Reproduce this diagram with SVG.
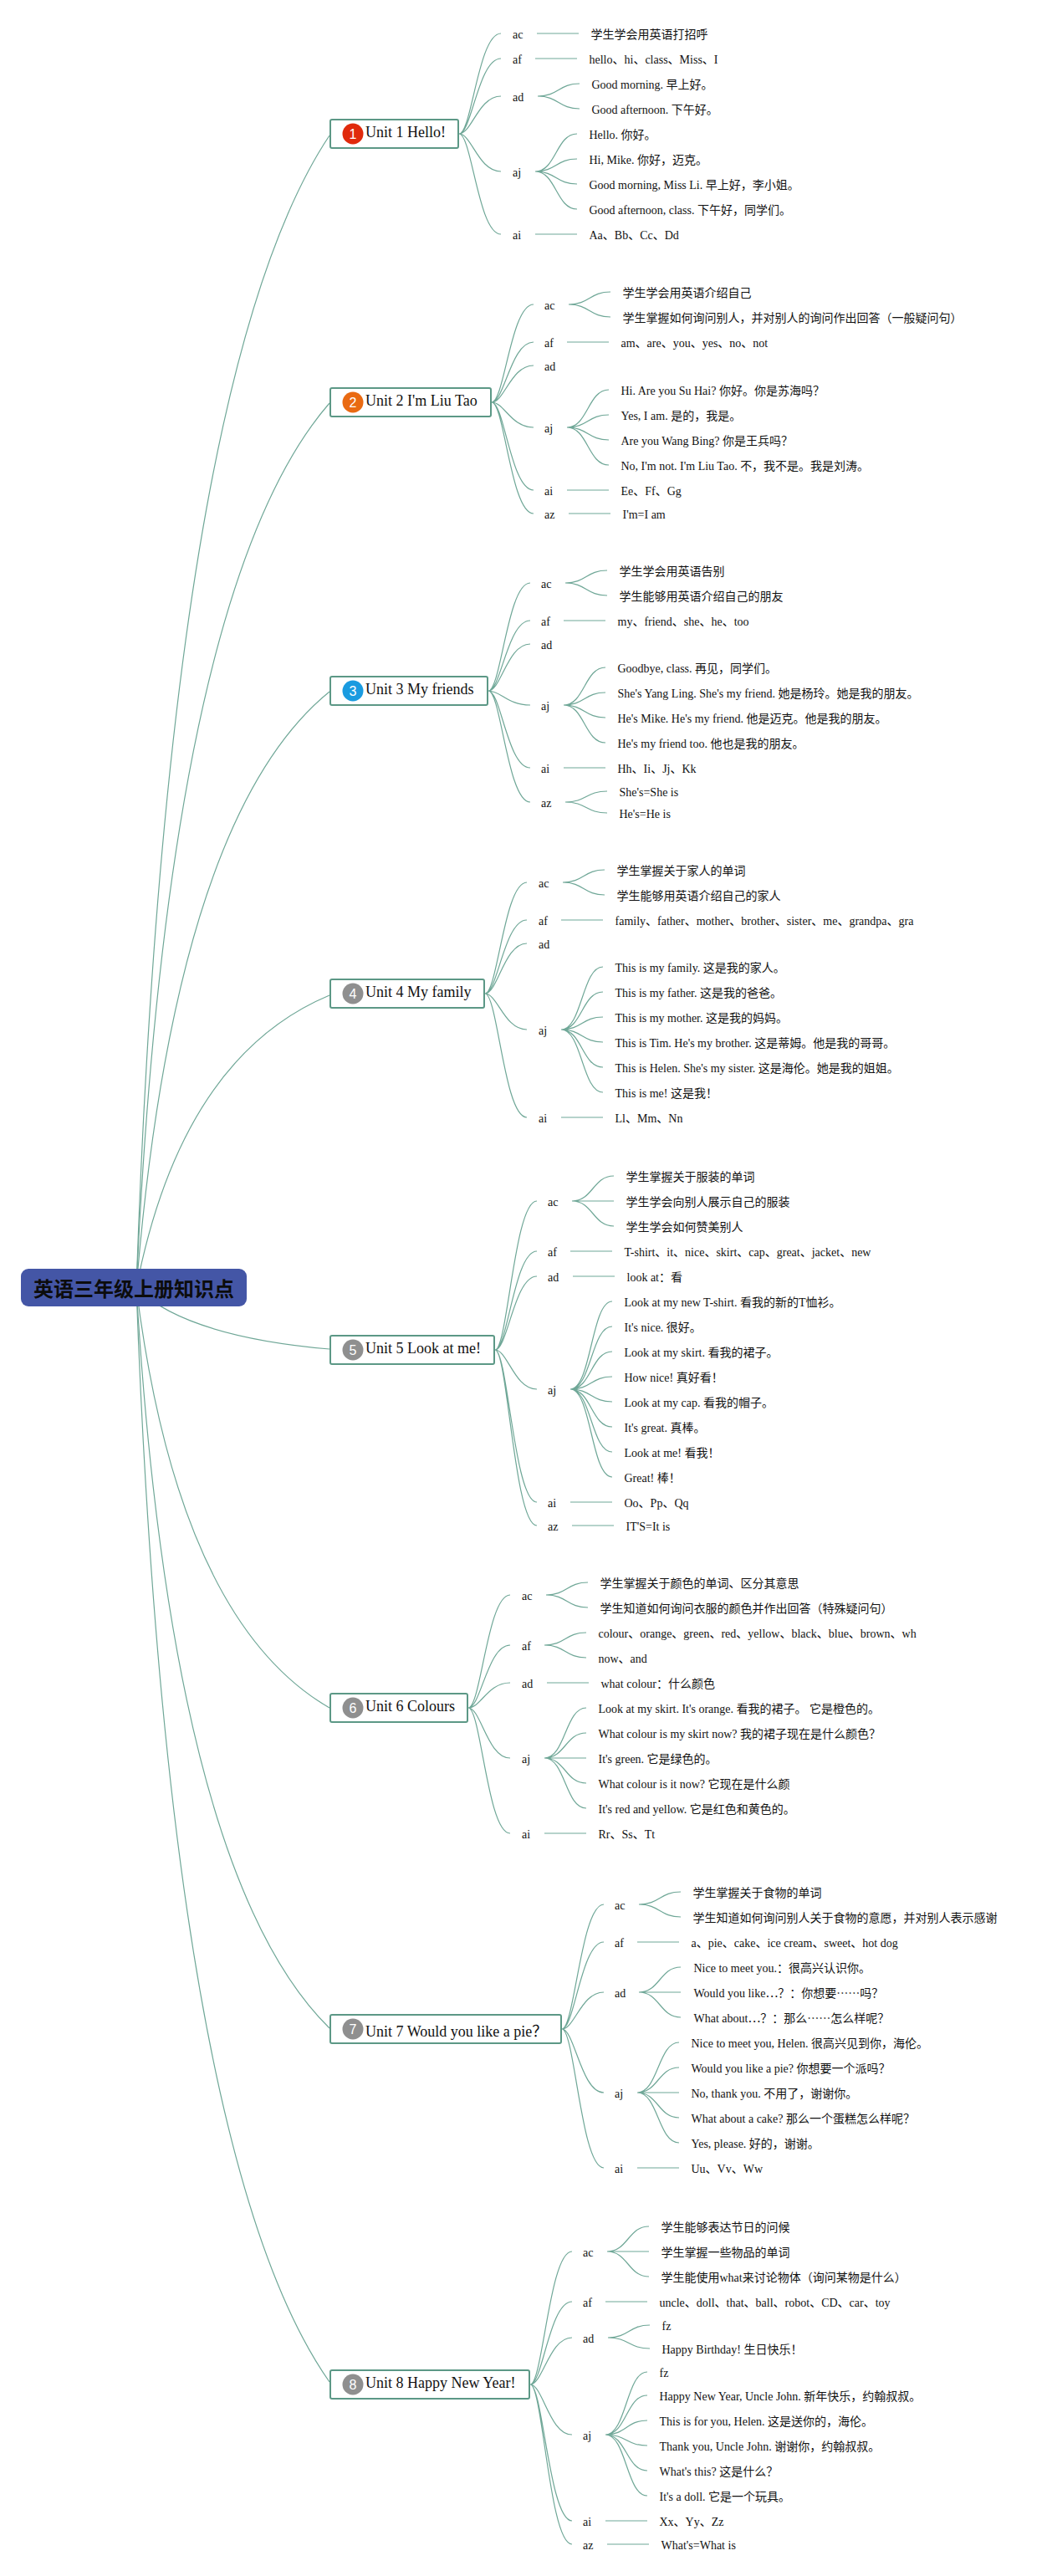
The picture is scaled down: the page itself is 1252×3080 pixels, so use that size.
<svg xmlns="http://www.w3.org/2000/svg" width="1252" height="3080" viewBox="0 0 1252 3080">
<style>
text{font-family:"Liberation Serif","Noto Sans CJK SC",serif;font-size:14px;fill:#111}
.cjk{font-family:"Noto Sans CJK SC",sans-serif}
.root{font-family:"Noto Sans CJK SC",sans-serif;font-size:24px;font-weight:700;text-anchor:middle;fill:#0c0c0c}
.t{font-size:18px}
.n{font-family:"Liberation Sans",sans-serif;font-size:16px;fill:#fff;text-anchor:middle}
.box{fill:#fff;stroke:#5c9886;stroke-width:2}
#connectors path{fill:none;stroke:#6fa797;stroke-width:1.2}
</style>
<rect width="1252" height="3080" fill="#fff"/>
<g id="connectors">
<path d="M163 1540Q200 453 394 162"/>
<path d="M163 1540Q201 704 394 482"/>
<path d="M163 1540Q209 977 394 827"/>
<path d="M163 1540Q217 1264 394 1190"/>
<path d="M163 1540Q223 1598 394 1613"/>
<path d="M163 1540Q213 1937 394 2042"/>
<path d="M163 1540Q205 2239 394 2425"/>
<path d="M163 1540Q201 2573 394 2848"/>

<path d="M549 160C564 160 572 40 599 40M549 160C564 160 572 70 599 70M549 160C564 160 572 115 599 115M549 160C564 160 572 205 599 205M549 160C564 160 572 280 599 280"/>
<path d="M642 40H692M640 70H690M640 280H690"/>
<path d="M643 115C668 115 668 100 693 100M643 115C668 115 668 130 693 130"/>
<path d="M640 205C665 205 665 160 690 160M640 205C665 205 665 190 690 190M640 205C665 205 665 220 690 220M640 205C665 205 665 250 690 250"/>

<path d="M588 481C603 481 611 364 638 364M588 481C603 481 611 409 638 409M588 481C603 481 611 437 638 437M588 481C603 481 611 511 638 511M588 481C603 481 611 586 638 586M588 481C603 481 611 614 638 614"/>
<path d="M680 364C705 364 705 349 730 349M680 364C705 364 705 379 730 379"/>
<path d="M678 409H728M678 586H728M680 614H730"/>
<path d="M678 511C703 511 703 466 728 466M678 511C703 511 703 496 728 496M678 511C703 511 703 526 728 526M678 511C703 511 703 556 728 556"/>

<path d="M584 826C599 826 607 697 634 697M584 826C599 826 607 742 634 742M584 826C599 826 607 770 634 770M584 826C599 826 607 843 634 843M584 826C599 826 607 918 634 918M584 826C599 826 607 959 634 959"/>
<path d="M676 697C701 697 701 682 726 682M676 697C701 697 701 712 726 712"/>
<path d="M674 742H724M674 918H724"/>
<path d="M674 843C699 843 699 798 724 798M674 843C699 843 699 828 724 828M674 843C699 843 699 858 724 858M674 843C699 843 699 888 724 888"/>
<path d="M676 959C701 959 701 946 726 946M676 959C701 959 701 972 726 972"/>

<path d="M580 1188C595 1188 603 1055 630 1055M580 1188C595 1188 603 1100 630 1100M580 1188C595 1188 603 1128 630 1128M580 1188C595 1188 603 1231 630 1231M580 1188C595 1188 603 1336 630 1336"/>
<path d="M673 1055C698 1055 698 1040 723 1040M673 1055C698 1055 698 1070 723 1070"/>
<path d="M671 1100H721M671 1336H721"/>
<path d="M671 1231C696 1231 696 1156 721 1156M671 1231C696 1231 696 1186 721 1186M671 1231C696 1231 696 1216 721 1216M671 1231C696 1231 696 1246 721 1246M671 1231C696 1231 696 1276 721 1276M671 1231C696 1231 696 1306 721 1306"/>

<path d="M592 1614C607 1614 615 1436 642 1436M592 1614C607 1614 615 1496 642 1496M592 1614C607 1614 615 1526 642 1526M592 1614C607 1614 615 1661 642 1661M592 1614C607 1614 615 1796 642 1796M592 1614C607 1614 615 1824 642 1824"/>
<path d="M684 1436C709 1436 709 1406 734 1406M684 1436H734M684 1436C709 1436 709 1466 734 1466"/>
<path d="M682 1496H732M685 1526H735M682 1796H732M684 1824H734"/>
<path d="M682 1661C707 1661 707 1556 732 1556M682 1661C707 1661 707 1586 732 1586M682 1661C707 1661 707 1616 732 1616M682 1661C707 1661 707 1646 732 1646M682 1661C707 1661 707 1676 732 1676M682 1661C707 1661 707 1706 732 1706M682 1661C707 1661 707 1736 732 1736M682 1661C707 1661 707 1766 732 1766"/>

<path d="M560 2042C575 2042 583 1907 610 1907M560 2042C575 2042 583 1967 610 1967M560 2042C575 2042 583 2012 610 2012M560 2042C575 2042 583 2102 610 2102M560 2042C575 2042 583 2192 610 2192"/>
<path d="M653 1907C678 1907 678 1892 703 1892M653 1907C678 1907 678 1922 703 1922"/>
<path d="M651 1967C676 1967 676 1952 701 1952M651 1967C676 1967 676 1982 701 1982"/>
<path d="M654 2012H704M651 2192H701"/>
<path d="M651 2102C676 2102 676 2042 701 2042M651 2102C676 2102 676 2072 701 2072M651 2102H701M651 2102C676 2102 676 2132 701 2132M651 2102C676 2102 676 2162 701 2162"/>

<path d="M672 2426C687 2426 695 2277 722 2277M672 2426C687 2426 695 2322 722 2322M672 2426C687 2426 695 2382 722 2382M672 2426C687 2426 695 2502 722 2502M672 2426C687 2426 695 2592 722 2592"/>
<path d="M764 2277C789 2277 789 2262 814 2262M764 2277C789 2277 789 2292 814 2292"/>
<path d="M762 2322H812M762 2592H812"/>
<path d="M764 2382C789 2382 789 2352 814 2352M764 2382H814M764 2382C789 2382 789 2412 814 2412"/>
<path d="M762 2502C787 2502 787 2442 812 2442M762 2502C787 2502 787 2472 812 2472M762 2502H812M762 2502C787 2502 787 2532 812 2532M762 2502C787 2502 787 2562 812 2562"/>

<path d="M634 2851C649 2851 657 2692 684 2692M634 2851C649 2851 657 2752 684 2752M634 2851C649 2851 657 2795 684 2795M634 2851C649 2851 657 2911 684 2911M634 2851C649 2851 657 3014 684 3014M634 2851C649 2851 657 3042 684 3042"/>
<path d="M726 2692C751 2692 751 2662 776 2662M726 2692H776M726 2692C751 2692 751 2722 776 2722"/>
<path d="M724 2752H774M724 3014H774M726 3042H776"/>
<path d="M727 2795C752 2795 752 2780 777 2780M727 2795C752 2795 752 2808 777 2808"/>
<path d="M724 2911C749 2911 749 2836 774 2836M724 2911C749 2911 749 2864 774 2864M724 2911C749 2911 749 2894 774 2894M724 2911C749 2911 749 2924 774 2924M724 2911C749 2911 749 2954 774 2954M724 2911C749 2911 749 2984 774 2984"/>
</g>

<g id="root"><rect x="25" y="1517" width="270" height="45" rx="9" fill="#4456a6"/><text class="root" x="160" y="1550">英语三年级上册知识点</text></g>

<g id="unit1"><rect class="box" x="395" y="143" width="153" height="34" rx="2"/><circle cx="422" cy="160" r="12.5" fill="#e02a0c"/><text class="n" x="422" y="166">1</text><text class="t" x="437" y="164">Unit 1 Hello!</text></g>
<g id="u1-ac"><text x="613" y="46">ac</text></g>
<g id="u1-ac1"><text x="706.5" y="46">学生学会用英语打招呼</text></g>
<g id="u1-af"><text x="613" y="76">af</text></g>
<g id="u1-af1"><text x="704.5" y="76">hello、hi、class、Miss、I</text></g>
<g id="u1-ad"><text x="613" y="121">ad</text></g>
<g id="u1-ad1"><text x="707.5" y="106">Good morning. 早上好。</text></g>
<g id="u1-ad2"><text x="707.5" y="136">Good afternoon. 下午好。</text></g>
<g id="u1-aj"><text x="613" y="211">aj</text></g>
<g id="u1-aj1"><text x="704.5" y="166">Hello. 你好。</text></g>
<g id="u1-aj2"><text x="704.5" y="196">Hi, Mike. 你好，迈克。</text></g>
<g id="u1-aj3"><text x="704.5" y="226">Good morning, Miss Li. 早上好，李小姐。</text></g>
<g id="u1-aj4"><text x="704.5" y="256">Good afternoon, class. 下午好，同学们。</text></g>
<g id="u1-ai"><text x="613" y="286">ai</text></g>
<g id="u1-ai1"><text x="704.5" y="286">Aa、Bb、Cc、Dd</text></g>

<g id="unit2"><rect class="box" x="395" y="464" width="192" height="34" rx="2"/><circle cx="422" cy="481" r="12.5" fill="#e96a12"/><text class="n" x="422" y="487">2</text><text class="t" x="437" y="485">Unit 2 I'm Liu Tao</text></g>
<g id="u2-ac"><text x="651" y="370">ac</text></g>
<g id="u2-ac1"><text x="744.5" y="355">学生学会用英语介绍自己</text></g>
<g id="u2-ac2"><text x="744.5" y="385">学生掌握如何询问别人，并对别人的询问作出回答（一般疑问句）</text></g>
<g id="u2-af"><text x="651" y="415">af</text></g>
<g id="u2-af1"><text x="742.5" y="415">am、are、you、yes、no、not</text></g>
<g id="u2-ad"><text x="651" y="443">ad</text></g>
<g id="u2-aj"><text x="651" y="517">aj</text></g>
<g id="u2-aj1"><text x="742.5" y="472">Hi. Are you Su Hai? 你好。你是苏海吗？</text></g>
<g id="u2-aj2"><text x="742.5" y="502">Yes, I am. 是的，我是。</text></g>
<g id="u2-aj3"><text x="742.5" y="532">Are you Wang Bing? 你是王兵吗？</text></g>
<g id="u2-aj4"><text x="742.5" y="562">No, I'm not. I'm Liu Tao. 不，我不是。我是刘涛。</text></g>
<g id="u2-ai"><text x="651" y="592">ai</text></g>
<g id="u2-ai1"><text x="742.5" y="592">Ee、Ff、Gg</text></g>
<g id="u2-az"><text x="651" y="620">az</text></g>
<g id="u2-az1"><text x="744.5" y="620">I'm=I am</text></g>

<g id="unit3"><rect class="box" x="395" y="809" width="188" height="34" rx="2"/><circle cx="422" cy="826" r="12.5" fill="#1a9be0"/><text class="n" x="422" y="832">3</text><text class="t" x="437" y="830">Unit 3 My friends</text></g>
<g id="u3-ac"><text x="647" y="703">ac</text></g>
<g id="u3-ac1"><text x="740.5" y="688">学生学会用英语告别</text></g>
<g id="u3-ac2"><text x="740.5" y="718">学生能够用英语介绍自己的朋友</text></g>
<g id="u3-af"><text x="647" y="748">af</text></g>
<g id="u3-af1"><text x="738.5" y="748">my、friend、she、he、too</text></g>
<g id="u3-ad"><text x="647" y="776">ad</text></g>
<g id="u3-aj"><text x="647" y="849">aj</text></g>
<g id="u3-aj1"><text x="738.5" y="804">Goodbye, class. 再见，同学们。</text></g>
<g id="u3-aj2"><text x="738.5" y="834">She's Yang Ling. She's my friend. 她是杨玲。她是我的朋友。</text></g>
<g id="u3-aj3"><text x="738.5" y="864">He's Mike. He's my friend. 他是迈克。他是我的朋友。</text></g>
<g id="u3-aj4"><text x="738.5" y="894">He's my friend too. 他也是我的朋友。</text></g>
<g id="u3-ai"><text x="647" y="924">ai</text></g>
<g id="u3-ai1"><text x="738.5" y="924">Hh、Ii、Jj、Kk</text></g>
<g id="u3-az"><text x="647" y="965">az</text></g>
<g id="u3-az1"><text x="740.5" y="952">She's=She is</text></g>
<g id="u3-az2"><text x="740.5" y="978">He's=He is</text></g>

<g id="unit4"><rect class="box" x="395" y="1171" width="184" height="34" rx="2"/><circle cx="422" cy="1188" r="12.5" fill="#8f8f8f"/><text class="n" x="422" y="1194">4</text><text class="t" x="437" y="1192">Unit 4 My family</text></g>
<g id="u4-ac"><text x="644" y="1061">ac</text></g>
<g id="u4-ac1"><text x="737.5" y="1046">学生掌握关于家人的单词</text></g>
<g id="u4-ac2"><text x="737.5" y="1076">学生能够用英语介绍自己的家人</text></g>
<g id="u4-af"><text x="644" y="1106">af</text></g>
<g id="u4-af1"><text x="735.5" y="1106">family、father、mother、brother、sister、me、grandpa、gra</text></g>
<g id="u4-ad"><text x="644" y="1134">ad</text></g>
<g id="u4-aj"><text x="644" y="1237">aj</text></g>
<g id="u4-aj1"><text x="735.5" y="1162">This is my family. 这是我的家人。</text></g>
<g id="u4-aj2"><text x="735.5" y="1192">This is my father. 这是我的爸爸。</text></g>
<g id="u4-aj3"><text x="735.5" y="1222">This is my mother. 这是我的妈妈。</text></g>
<g id="u4-aj4"><text x="735.5" y="1252">This is Tim. He's my brother. 这是蒂姆。他是我的哥哥。</text></g>
<g id="u4-aj5"><text x="735.5" y="1282">This is Helen. She's my sister. 这是海伦。她是我的姐姐。</text></g>
<g id="u4-aj6"><text x="735.5" y="1312">This is me! 这是我！</text></g>
<g id="u4-ai"><text x="644" y="1342">ai</text></g>
<g id="u4-ai1"><text x="735.5" y="1342">Ll、Mm、Nn</text></g>

<g id="unit5"><rect class="box" x="395" y="1597" width="196" height="34" rx="2"/><circle cx="422" cy="1614" r="12.5" fill="#8f8f8f"/><text class="n" x="422" y="1620">5</text><text class="t" x="437" y="1618">Unit 5 Look at me!</text></g>
<g id="u5-ac"><text x="655" y="1442">ac</text></g>
<g id="u5-ac1"><text x="748.5" y="1412">学生掌握关于服装的单词</text></g>
<g id="u5-ac2"><text x="748.5" y="1442">学生学会向别人展示自己的服装</text></g>
<g id="u5-ac3"><text x="748.5" y="1472">学生学会如何赞美别人</text></g>
<g id="u5-af"><text x="655" y="1502">af</text></g>
<g id="u5-af1"><text x="746.5" y="1502">T-shirt、it、nice、skirt、cap、great、jacket、new</text></g>
<g id="u5-ad"><text x="655" y="1532">ad</text></g>
<g id="u5-ad1"><text x="749.5" y="1532">look at：看</text></g>
<g id="u5-aj"><text x="655" y="1667">aj</text></g>
<g id="u5-aj1"><text x="746.5" y="1562">Look at my new T-shirt. 看我的新的T恤衫。</text></g>
<g id="u5-aj2"><text x="746.5" y="1592">It's nice. 很好。</text></g>
<g id="u5-aj3"><text x="746.5" y="1622">Look at my skirt. 看我的裙子。</text></g>
<g id="u5-aj4"><text x="746.5" y="1652">How nice! 真好看！</text></g>
<g id="u5-aj5"><text x="746.5" y="1682">Look at my cap. 看我的帽子。</text></g>
<g id="u5-aj6"><text x="746.5" y="1712">It's great. 真棒。</text></g>
<g id="u5-aj7"><text x="746.5" y="1742">Look at me! 看我！</text></g>
<g id="u5-aj8"><text x="746.5" y="1772">Great! 棒！</text></g>
<g id="u5-ai"><text x="655" y="1802">ai</text></g>
<g id="u5-ai1"><text x="746.5" y="1802">Oo、Pp、Qq</text></g>
<g id="u5-az"><text x="655" y="1830">az</text></g>
<g id="u5-az1"><text x="748.5" y="1830">IT'S=It is</text></g>

<g id="unit6"><rect class="box" x="395" y="2025" width="164" height="34" rx="2"/><circle cx="422" cy="2042" r="12.5" fill="#8f8f8f"/><text class="n" x="422" y="2048">6</text><text class="t" x="437" y="2046">Unit 6 Colours</text></g>
<g id="u6-ac"><text x="624" y="1913">ac</text></g>
<g id="u6-ac1"><text x="717.5" y="1898">学生掌握关于颜色的单词、区分其意思</text></g>
<g id="u6-ac2"><text x="717.5" y="1928">学生知道如何询问衣服的颜色并作出回答（特殊疑问句）</text></g>
<g id="u6-af"><text x="624" y="1973">af</text></g>
<g id="u6-af1"><text x="715.5" y="1958">colour、orange、green、red、yellow、black、blue、brown、wh</text></g>
<g id="u6-af2"><text x="715.5" y="1988">now、and</text></g>
<g id="u6-ad"><text x="624" y="2018">ad</text></g>
<g id="u6-ad1"><text x="718.5" y="2018">what colour：什么颜色</text></g>
<g id="u6-aj"><text x="624" y="2108">aj</text></g>
<g id="u6-aj1"><text x="715.5" y="2048">Look at my skirt. It's orange. 看我的裙子。 它是橙色的。</text></g>
<g id="u6-aj2"><text x="715.5" y="2078">What colour is my skirt now? 我的裙子现在是什么颜色？</text></g>
<g id="u6-aj3"><text x="715.5" y="2108">It's green. 它是绿色的。</text></g>
<g id="u6-aj4"><text x="715.5" y="2138">What colour is it now? 它现在是什么颜</text></g>
<g id="u6-aj5"><text x="715.5" y="2168">It's red and yellow. 它是红色和黄色的。</text></g>
<g id="u6-ai"><text x="624" y="2198">ai</text></g>
<g id="u6-ai1"><text x="715.5" y="2198">Rr、Ss、Tt</text></g>

<g id="unit7"><rect class="box" x="395" y="2409" width="276" height="34" rx="2"/><circle cx="422" cy="2426" r="12.5" fill="#8f8f8f"/><text class="n" x="422" y="2432">7</text><text class="t" x="437" y="2435">Unit 7 Would you like a pie？</text></g>
<g id="u7-ac"><text x="735" y="2283">ac</text></g>
<g id="u7-ac1"><text x="828.5" y="2268">学生掌握关于食物的单词</text></g>
<g id="u7-ac2"><text x="828.5" y="2298">学生知道如何询问别人关于食物的意愿，并对别人表示感谢</text></g>
<g id="u7-af"><text x="735" y="2328">af</text></g>
<g id="u7-af1"><text x="826.5" y="2328">a、pie、cake、ice cream、sweet、hot dog</text></g>
<g id="u7-ad"><text x="735" y="2388">ad</text></g>
<g id="u7-ad1"><text x="829.5" y="2358">Nice to meet you.：很高兴认识你。</text></g>
<g id="u7-ad2"><text x="829.5" y="2388">Would you like<tspan class="cjk">…</tspan>？：你想要<tspan class="cjk">……</tspan>吗？</text></g>
<g id="u7-ad3"><text x="829.5" y="2418">What about<tspan class="cjk">…</tspan>？：那么<tspan class="cjk">……</tspan>怎么样呢？</text></g>
<g id="u7-aj"><text x="735" y="2508">aj</text></g>
<g id="u7-aj1"><text x="826.5" y="2448">Nice to meet you, Helen. 很高兴见到你，海伦。</text></g>
<g id="u7-aj2"><text x="826.5" y="2478">Would you like a pie? 你想要一个派吗？</text></g>
<g id="u7-aj3"><text x="826.5" y="2508">No, thank you. 不用了，谢谢你。</text></g>
<g id="u7-aj4"><text x="826.5" y="2538">What about a cake? 那么一个蛋糕怎么样呢？</text></g>
<g id="u7-aj5"><text x="826.5" y="2568">Yes, please. 好的，谢谢。</text></g>
<g id="u7-ai"><text x="735" y="2598">ai</text></g>
<g id="u7-ai1"><text x="826.5" y="2598">Uu、Vv、Ww</text></g>

<g id="unit8"><rect class="box" x="395" y="2834" width="238" height="34" rx="2"/><circle cx="422" cy="2851" r="12.5" fill="#8f8f8f"/><text class="n" x="422" y="2857">8</text><text class="t" x="437" y="2855">Unit 8 Happy New Year!</text></g>
<g id="u8-ac"><text x="697" y="2698">ac</text></g>
<g id="u8-ac1"><text x="790.5" y="2668">学生能够表达节日的问候</text></g>
<g id="u8-ac2"><text x="790.5" y="2698">学生掌握一些物品的单词</text></g>
<g id="u8-ac3"><text x="790.5" y="2728">学生能使用what来讨论物体（询问某物是什么）</text></g>
<g id="u8-af"><text x="697" y="2758">af</text></g>
<g id="u8-af1"><text x="788.5" y="2758">uncle、doll、that、ball、robot、CD、car、toy</text></g>
<g id="u8-ad"><text x="697" y="2801">ad</text></g>
<g id="u8-ad1"><text x="791.5" y="2786">fz</text></g>
<g id="u8-ad2"><text x="791.5" y="2814">Happy Birthday! 生日快乐！</text></g>
<g id="u8-aj"><text x="697" y="2917">aj</text></g>
<g id="u8-aj1"><text x="788.5" y="2842">fz</text></g>
<g id="u8-aj2"><text x="788.5" y="2870">Happy New Year, Uncle John. 新年快乐，约翰叔叔。</text></g>
<g id="u8-aj3"><text x="788.5" y="2900">This is for you, Helen. 这是送你的，海伦。</text></g>
<g id="u8-aj4"><text x="788.5" y="2930">Thank you, Uncle John. 谢谢你，约翰叔叔。</text></g>
<g id="u8-aj5"><text x="788.5" y="2960">What's this? 这是什么？</text></g>
<g id="u8-aj6"><text x="788.5" y="2990">It's a doll. 它是一个玩具。</text></g>
<g id="u8-ai"><text x="697" y="3020">ai</text></g>
<g id="u8-ai1"><text x="788.5" y="3020">Xx、Yy、Zz</text></g>
<g id="u8-az"><text x="697" y="3048">az</text></g>
<g id="u8-az1"><text x="790.5" y="3048">What's=What is</text></g>
</svg>
